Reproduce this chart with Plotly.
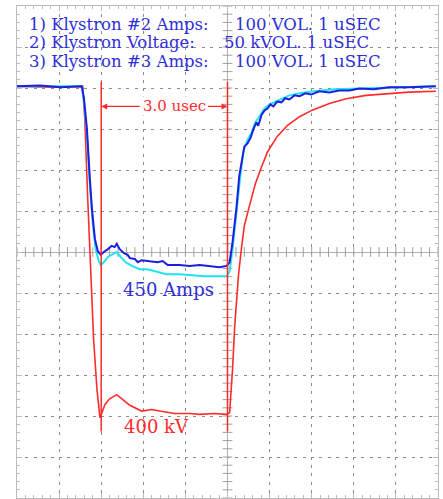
import numpy as np
import plotly.graph_objects as go

# ---- data (time in usec relative to pulse end marker) ----
volt_t = [-5.0, -4.22, -3.44, -3.39, -3.32, -3.25, -3.18, -3.10, -3.05, -3.03, -2.99, -2.91,
          -2.80, -2.63, -2.51, -2.32, -2.04, -1.80, -1.61, -1.26, -0.90, -0.66, -0.31, -0.02,
          0.05, 0.12, 0.17, 0.26, 0.33, 0.40, 0.52, 0.66, 0.81, 0.95, 1.18, 1.42, 1.71, 2.01,
          2.42, 2.82, 3.29, 3.77, 4.31, 4.95]
volt_kv = [0, -1, 0, -39, -137, -235, -309, -370, -397, -404, -399, -388,
           -381, -376, -381, -389, -396, -394, -396, -399, -399, -400, -399, -400,
           -398, -345, -293, -231, -198, -170, -146, -119, -98, -80, -61, -48, -37, -29,
           -21, -15, -11, -9, -7, -6]

k2_t = [-5.0, -4.45, -3.98, -3.46, -3.41, -3.34, -3.27, -3.22, -3.15, -3.08, -3.01, -2.94,
        -2.84, -2.75, -2.68, -2.63, -2.56, -2.46, -2.37, -2.32, -2.20, -2.13, -2.04, -1.85,
        -1.66, -1.54, -1.42, -1.14, -0.90, -0.66, -0.43, -0.19, -0.02, 0.05, 0.12, 0.21,
        0.28, 0.36, 0.40, 0.47, 0.55, 0.62, 0.69, 0.73, 0.81, 0.88, 0.95, 1.02, 1.09, 1.18,
        1.28, 1.37, 1.47, 1.59, 1.71, 1.85, 1.99, 2.18, 2.42, 2.65, 2.89, 3.13, 3.48, 3.84,
        4.31, 4.95]
k2_amps = [0, 2, -2, 0, -29, -103, -225, -299, -372, -402, -411, -404,
           -397, -389, -392, -384, -397, -407, -411, -419, -421, -429, -424, -426,
           -429, -426, -436, -436, -438, -436, -438, -441, -438, -429, -380, -299,
           -218, -164, -147, -140, -125, -103, -88, -96, -69, -59, -54, -44, -49, -37,
           -39, -29, -32, -22, -24, -17, -20, -12, -15, -10, -10, -5, -7, -2,
           -2, 0]

k3_t = [-5.0, -3.46, -3.41, -3.34, -3.27, -3.20, -3.13, -3.06, -3.01, -2.94, -2.84, -2.75,
        -2.63, -2.54, -2.42, -2.27, -2.09, -1.90, -1.73, -1.45, -1.14, -0.90, -0.55, -0.02,
        0.05, 0.12, 0.21, 0.31, 0.38, 0.47, 0.57, 0.66, 0.76, 0.88, 1.00, 1.14, 1.28, 1.47,
        1.71, 2.06, 2.54, 3.13, 4.08, 4.95]
k3_amps = [0, 0, -37, -115, -238, -336, -397, -426, -436, -429, -416, -411,
           -404, -416, -429, -438, -446, -446, -451, -458, -458, -460, -463, -463,
           -451, -397, -306, -213, -157, -132, -113, -88, -73, -54, -44, -37, -32, -22,
           -17, -12, -7, -5, -2, 0]

marker_t = [-3.0, 0.0]          # cursor lines, 3.0 usec apart
header_left = ["1) Klystron #2 Amps:", "2) Klystron Voltage:", "3) Klystron #3 Amps:"]
header_right = ["100 VOL. 1 uSEC", "50 kVOL. 1 uSEC", "100 VOL. 1 uSEC"]

# ---- scope scaling ----
BASE = 4.04            # baseline position in divisions
AMP_PER_DIV = 100.0
KV_PER_DIV = 50.0

RED = "#ff2b2b"
BLUE = "#1e1ee0"
CYAN = "#1ee3f0"
TXT_BLUE = "#2e2ed8"
GRID = "#8c8c8c"
FRAME = "#bcbcbc"

fig = go.Figure()

# crosshair minor ticks
fig.add_trace(go.Scatter(x=np.arange(-5, 5.001, 0.2), y=np.zeros(51), mode="markers",
                         marker=dict(symbol="line-ns-open", size=7, color="#a0a0a0",
                                     line=dict(color="#a0a0a0", width=1)),
                         hoverinfo="skip", showlegend=False))
fig.add_trace(go.Scatter(x=np.zeros(61), y=np.arange(-6, 6.001, 0.2), mode="markers",
                         marker=dict(symbol="line-ew-open", size=7, color="#a0a0a0",
                                     line=dict(color="#a0a0a0", width=1)),
                         hoverinfo="skip", showlegend=False))

fig.add_trace(go.Scatter(x=volt_t, y=[BASE + v / KV_PER_DIV for v in volt_kv], mode="lines",
                         line=dict(color=RED, width=1.6), showlegend=False))
fig.add_trace(go.Scatter(x=k3_t, y=[BASE + v / AMP_PER_DIV for v in k3_amps], mode="lines",
                         line=dict(color=CYAN, width=2), showlegend=False))
fig.add_trace(go.Scatter(x=k2_t, y=[BASE + v / AMP_PER_DIV for v in k2_amps], mode="lines",
                         line=dict(color=BLUE, width=2), showlegend=False))

for mt in marker_t:
    fig.add_shape(type="line", x0=mt, x1=mt, y0=4.15, y1=-4.38, xref="x", yref="y",
                  line=dict(color=RED, width=1.5))

# 3.0 usec arrows
arrow_y = 3.55
fig.add_annotation(x=marker_t[0], y=arrow_y, ax=-2.05, ay=arrow_y, axref="x", ayref="y",
                   xref="x", yref="y", text="", showarrow=True, arrowhead=2, arrowsize=1,
                   arrowwidth=1.2, arrowcolor=RED)
fig.add_annotation(x=marker_t[1], y=arrow_y, ax=-0.50, ay=arrow_y, axref="x", ayref="y",
                   xref="x", yref="y", text="", showarrow=True, arrowhead=2, arrowsize=1,
                   arrowwidth=1.2, arrowcolor=RED)
fig.add_annotation(x=-1.27, y=arrow_y, text="3.0 usec", showarrow=False,
                   font=dict(family="DejaVu Serif", size=15, color=RED), bgcolor="white",
                   borderpad=0)

# header
head_y = [5.56, 5.12, 4.65]
right_x = [0.12, -0.14, 0.12]
for i in range(3):
    fig.add_annotation(x=-4.76, y=head_y[i], text=header_left[i], showarrow=False, xanchor="left",
                       font=dict(family="DejaVu Serif", size=16.5, color=TXT_BLUE))
    fig.add_annotation(x=right_x[i], y=head_y[i], text=header_right[i], showarrow=False,
                       xanchor="left", font=dict(family="DejaVu Serif", size=16.5, color=TXT_BLUE))

fig.add_annotation(x=-1.40, y=-0.91, text="450 Amps", showarrow=False,
                   font=dict(family="DejaVu Serif", size=18, color=TXT_BLUE))
fig.add_annotation(x=-1.68, y=-4.26, text="400 kV", showarrow=False,
                   font=dict(family="DejaVu Serif", size=18, color=RED))

axis_common = dict(showticklabels=False, showline=True, linecolor=FRAME, linewidth=1,
                   mirror="ticks", ticks="inside", ticklen=5, tickcolor=FRAME,
                   dtick=1, zeroline=True, zerolinecolor="#b0b0b0", zerolinewidth=1,
                   showgrid=True, gridcolor=GRID, gridwidth=1.3, fixedrange=True)

fig.update_xaxes(range=[-5, 5], tick0=-5, griddash="3px,5.2px",
                 minor=dict(dtick=0.2, ticks="inside", ticklen=3, tickcolor=FRAME, showgrid=False),
                 **axis_common)
fig.update_yaxes(range=[-6, 6], tick0=-6, griddash="3px,5.4px",
                 minor=dict(dtick=0.2, ticks="inside", ticklen=3, tickcolor=FRAME, showgrid=False),
                 **axis_common)

fig.update_layout(width=443, height=499, margin=dict(l=17, r=5, t=6, b=1),
                  paper_bgcolor="white", plot_bgcolor="white", showlegend=False)

fig.write_html("out.html")
